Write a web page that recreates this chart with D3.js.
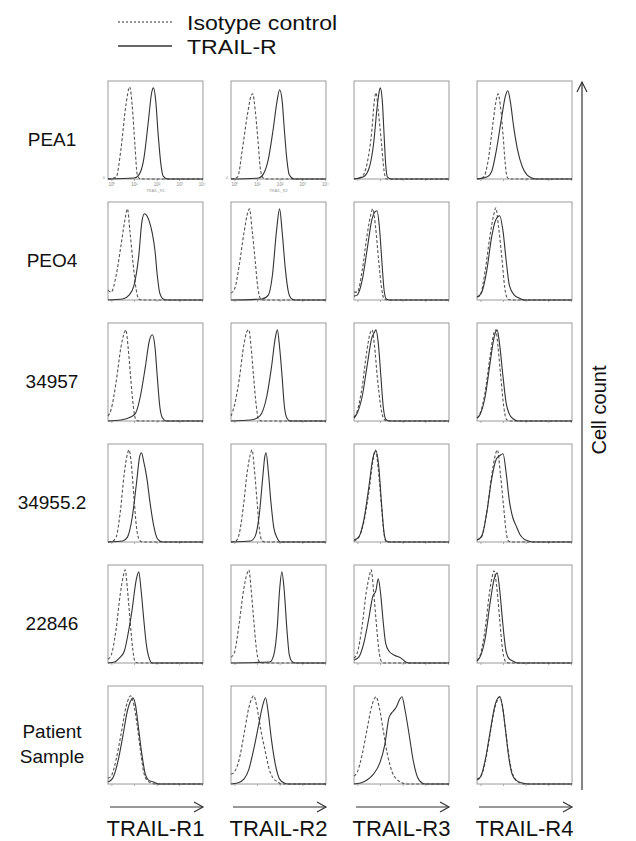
<!DOCTYPE html>
<html>
<head>
<meta charset="utf-8">
<script src="https://cdn.jsdelivr.net/npm/d3@7"></script>
<style>
  body { margin: 0; background: #fff; }
  svg { display: block; font-family: "Liberation Sans", Arial, sans-serif; }
</style>
</head>
<body>
<div id="chart"></div>
<script>
// rows = cell lines, columns = receptors
const samples = ['PEA1', 'PEO4', '34957', '34955.2', '22846', 'Patient Sample'];
const receptors = ['TRAIL-R1', 'TRAIL-R2', 'TRAIL-R3', 'TRAIL-R4'];
const decadeTicks = [0, 1, 2, 3, 4];

// each curve: [log10 fluorescence, relative cell count]
// one entry per receptor (R1..R4)
const pea1Iso = [
  [[0.21,0.02],[0.42,0.3],[0.64,0.75],[0.81,0.94],[0.92,0.75],[1.04,0.35],[1.14,0.05],[1.28,0]],
  [[0.14,0.02],[0.35,0.3],[0.57,0.65],[0.74,0.85],[0.81,0.87],[0.92,0.7],[1.04,0.4],[1.14,0.12],[1.24,0.02]],
  [[0.18,0.02],[0.42,0.15],[0.64,0.5],[0.75,0.8],[0.82,0.88],[0.92,0.7],[1.07,0.35],[1.18,0.08],[1.28,0]],
  [[0.14,0.02],[0.35,0.2],[0.57,0.6],[0.71,0.82],[0.78,0.87],[0.88,0.75],[1.0,0.45],[1.1,0.15],[1.18,0.02],[1.28,0]]
];
const pea1Trail = [
  [[1.0,0.01],[1.21,0.04],[1.43,0.2],[1.64,0.6],[1.78,0.88],[1.86,0.93],[1.96,0.8],[2.07,0.45],[2.19,0.15],[2.29,0.03],[2.5,0]],
  [[1.07,0.01],[1.28,0.05],[1.5,0.2],[1.71,0.5],[1.89,0.8],[2.0,0.91],[2.11,0.8],[2.21,0.5],[2.32,0.2],[2.43,0.04],[2.64,0]],
  [[0.25,0.02],[0.5,0.1],[0.71,0.35],[0.88,0.75],[0.97,0.9],[1.01,0.93],[1.1,0.8],[1.18,0.45],[1.25,0.15],[1.33,0.02],[1.5,0]],
  [[0.28,0.02],[0.5,0.08],[0.71,0.3],[0.92,0.6],[1.11,0.85],[1.21,0.9],[1.33,0.78],[1.46,0.55],[1.64,0.3],[1.86,0.12],[2.07,0.04],[2.29,0.01]]
];

const peo4Iso = [
  [[-0.15,0.1],[-0.01,0.08],[0.21,0.25],[0.42,0.55],[0.6,0.82],[0.71,0.93],[0.82,0.7],[0.97,0.35],[1.1,0.1],[1.21,0.01]],
  [[-0.15,0.07],[0.02,0.12],[0.21,0.35],[0.42,0.68],[0.6,0.9],[0.67,0.93],[0.78,0.72],[0.92,0.4],[1.04,0.12],[1.17,0.01]],
  [[-0.15,0.08],[-0.01,0.08],[0.21,0.3],[0.42,0.65],[0.6,0.88],[0.68,0.93],[0.8,0.75],[0.94,0.4],[1.07,0.12],[1.18,0.01]],
  [[-0.15,0.03],[-0.01,0.05],[0.21,0.3],[0.42,0.65],[0.6,0.88],[0.68,0.94],[0.8,0.75],[0.94,0.45],[1.08,0.12],[1.21,0.01]]
];
const peo4Trail = [
  [[0.5,0.01],[0.78,0.05],[1.0,0.15],[1.21,0.45],[1.35,0.8],[1.46,0.88],[1.57,0.86],[1.68,0.8],[1.81,0.68],[1.93,0.5],[2.03,0.25],[2.14,0.07],[2.29,0.01]],
  [[1.21,0.01],[1.5,0.05],[1.68,0.25],[1.86,0.7],[2.0,0.93],[2.11,0.7],[2.26,0.3],[2.4,0.07],[2.54,0.01]],
  [[-0.15,0.04],[-0.01,0.05],[0.21,0.2],[0.42,0.5],[0.64,0.82],[0.78,0.9],[0.87,0.91],[0.97,0.75],[1.08,0.4],[1.18,0.1],[1.28,0.01]],
  [[-0.15,0.03],[0.06,0.08],[0.28,0.3],[0.5,0.65],[0.68,0.82],[0.85,0.86],[1.0,0.7],[1.14,0.4],[1.28,0.15],[1.5,0.05],[1.71,0.02],[1.93,0]]
];

const s34957Iso = [
  [[-0.15,0.05],[-0.01,0.12],[0.21,0.4],[0.42,0.75],[0.57,0.9],[0.64,0.93],[0.74,0.75],[0.85,0.45],[0.97,0.15],[1.07,0.02],[1.21,0]],
  [[-0.15,0.05],[-0.01,0.15],[0.21,0.42],[0.42,0.78],[0.57,0.92],[0.64,0.93],[0.74,0.75],[0.85,0.45],[0.97,0.15],[1.07,0.02],[1.21,0]],
  [[-0.15,0.04],[-0.01,0.1],[0.21,0.35],[0.42,0.72],[0.57,0.9],[0.65,0.93],[0.75,0.78],[0.88,0.45],[1.03,0.15],[1.17,0.02]],
  [[-0.15,0.03],[-0.01,0.08],[0.21,0.3],[0.42,0.65],[0.6,0.9],[0.68,0.93],[0.78,0.75],[0.9,0.45],[1.03,0.15],[1.14,0.02]]
];
const s34957Trail = [
  [[0.42,0.01],[0.85,0.04],[1.07,0.08],[1.28,0.25],[1.5,0.55],[1.68,0.82],[1.81,0.88],[1.93,0.75],[2.03,0.45],[2.14,0.15],[2.26,0.03],[2.43,0]],
  [[0.71,0.01],[1.0,0.03],[1.21,0.08],[1.43,0.25],[1.64,0.55],[1.81,0.85],[1.9,0.93],[2.0,0.75],[2.11,0.45],[2.21,0.15],[2.32,0.03],[2.46,0]],
  [[-0.15,0.03],[-0.01,0.08],[0.21,0.25],[0.42,0.55],[0.64,0.85],[0.74,0.9],[0.82,0.93],[0.92,0.8],[1.04,0.45],[1.14,0.15],[1.25,0.02]],
  [[-0.15,0.03],[-0.01,0.07],[0.21,0.25],[0.42,0.58],[0.6,0.85],[0.74,0.93],[0.85,0.78],[1.0,0.45],[1.14,0.18],[1.28,0.07],[1.46,0.02],[1.64,0]]
];

const s349552Iso = [
  [[0.06,0.01],[0.21,0.05],[0.39,0.3],[0.57,0.7],[0.71,0.9],[0.78,0.94],[0.88,0.8],[1.0,0.45],[1.11,0.15],[1.24,0.02]],
  [[0.06,0.01],[0.21,0.08],[0.39,0.35],[0.57,0.72],[0.71,0.9],[0.78,0.94],[0.88,0.75],[1.0,0.42],[1.11,0.12],[1.23,0.01]],
  [[-0.15,0.01],[0.06,0.05],[0.28,0.2],[0.5,0.5],[0.68,0.82],[0.8,0.94],[0.92,0.75],[1.07,0.35],[1.18,0.08],[1.28,0]],
  [[-0.15,0.02],[0.06,0.06],[0.28,0.3],[0.5,0.68],[0.65,0.88],[0.75,0.94],[0.88,0.7],[1.03,0.35],[1.14,0.1],[1.24,0.01]]
];
const s349552Trail = [
  [[0.5,0.01],[0.71,0.05],[0.92,0.25],[1.11,0.6],[1.25,0.87],[1.33,0.91],[1.43,0.82],[1.57,0.65],[1.71,0.4],[1.86,0.18],[2.0,0.05],[2.14,0.01]],
  [[0.71,0.01],[0.92,0.06],[1.11,0.3],[1.25,0.65],[1.35,0.88],[1.4,0.91],[1.5,0.72],[1.61,0.42],[1.74,0.15],[1.89,0.04],[2.03,0]],
  [[-0.15,0.02],[0.06,0.05],[0.28,0.22],[0.5,0.55],[0.68,0.85],[0.82,0.93],[0.94,0.78],[1.07,0.38],[1.18,0.09],[1.28,0.01]],
  [[-0.15,0.02],[0.06,0.06],[0.28,0.3],[0.5,0.65],[0.71,0.85],[0.85,0.88],[1.0,0.9],[1.14,0.7],[1.28,0.42],[1.43,0.25],[1.57,0.17],[1.74,0.08],[1.93,0.03],[2.14,0.01]]
];

const s22846Iso = [
  [[-0.15,0.04],[-0.01,0.08],[0.21,0.35],[0.39,0.7],[0.54,0.9],[0.61,0.95],[0.71,0.75],[0.82,0.45],[0.94,0.15],[1.05,0.01]],
  [[-0.15,0.06],[-0.01,0.1],[0.21,0.4],[0.39,0.72],[0.57,0.92],[0.64,0.95],[0.74,0.75],[0.85,0.45],[0.97,0.15],[1.08,0.02]],
  [[-0.15,0.05],[-0.01,0.1],[0.21,0.38],[0.39,0.72],[0.54,0.9],[0.61,0.95],[0.71,0.75],[0.82,0.45],[0.94,0.15],[1.05,0.02]],
  [[-0.15,0.03],[-0.01,0.08],[0.21,0.35],[0.39,0.7],[0.52,0.88],[0.6,0.94],[0.71,0.8],[0.85,0.45],[0.97,0.15],[1.1,0.02]]
];
const s22846Trail = [
  [[0.14,0.01],[0.35,0.05],[0.57,0.12],[0.74,0.3],[0.92,0.55],[1.1,0.85],[1.21,0.93],[1.31,0.75],[1.43,0.45],[1.54,0.2],[1.67,0.05],[1.81,0]],
  [[1.57,0.01],[1.74,0.08],[1.89,0.35],[2.0,0.75],[2.1,0.93],[2.2,0.75],[2.32,0.35],[2.43,0.08],[2.57,0.01]],
  [[-0.15,0.03],[0.06,0.06],[0.28,0.2],[0.5,0.45],[0.68,0.68],[0.82,0.74],[0.92,0.86],[1.03,0.7],[1.14,0.42],[1.25,0.2],[1.4,0.12],[1.64,0.08],[1.93,0.05],[2.14,0.01]],
  [[-0.15,0.02],[0.02,0.08],[0.21,0.25],[0.42,0.6],[0.6,0.85],[0.74,0.92],[0.85,0.75],[0.97,0.45],[1.11,0.15],[1.25,0.05],[1.43,0.02],[1.64,0]]
];

const patientIso = [
  [[-0.15,0.06],[-0.01,0.08],[0.21,0.25],[0.42,0.5],[0.64,0.78],[0.78,0.88],[0.85,0.9],[1.0,0.8],[1.14,0.6],[1.28,0.35],[1.43,0.12],[1.57,0.04],[1.78,0.01]],
  [[-0.15,0.1],[-0.01,0.12],[0.21,0.25],[0.42,0.5],[0.64,0.78],[0.78,0.88],[0.85,0.9],[1.0,0.78],[1.17,0.55],[1.35,0.35],[1.54,0.15],[1.71,0.06],[1.93,0.02],[2.07,0]],
  [[-0.15,0.08],[-0.01,0.12],[0.21,0.3],[0.42,0.55],[0.64,0.8],[0.75,0.87],[0.82,0.89],[0.97,0.78],[1.14,0.55],[1.33,0.3],[1.54,0.12],[1.78,0.04],[2.0,0.01]],
  [[-0.15,0.05],[0.02,0.08],[0.21,0.22],[0.42,0.5],[0.64,0.78],[0.78,0.87],[0.85,0.89],[0.97,0.8],[1.11,0.55],[1.25,0.3],[1.4,0.12],[1.57,0.04],[1.78,0.01]]
];
const patientTrail = [
  [[-0.15,0.02],[0.06,0.06],[0.28,0.22],[0.5,0.48],[0.71,0.75],[0.88,0.86],[0.95,0.88],[1.07,0.8],[1.21,0.55],[1.35,0.3],[1.5,0.1],[1.64,0.04],[1.86,0.02],[2.07,0]],
  [[0.14,0.01],[0.42,0.05],[0.64,0.15],[0.85,0.35],[1.07,0.6],[1.25,0.8],[1.38,0.88],[1.5,0.72],[1.64,0.45],[1.81,0.2],[2.0,0.05],[2.21,0.01]],
  [[0.14,0.01],[0.42,0.04],[0.71,0.1],[1.0,0.22],[1.21,0.4],[1.4,0.68],[1.57,0.74],[1.71,0.78],[1.86,0.86],[1.97,0.89],[2.11,0.75],[2.29,0.5],[2.46,0.25],[2.64,0.08],[2.86,0.01]],
  [[-0.15,0.04],[0.02,0.08],[0.21,0.24],[0.42,0.52],[0.64,0.8],[0.78,0.88],[0.85,0.89],[0.97,0.8],[1.11,0.55],[1.25,0.28],[1.4,0.1],[1.57,0.04],[1.86,0.01],[2.14,0]]
];

const isotype = [pea1Iso, peo4Iso, s34957Iso, s349552Iso, s22846Iso, patientIso];
const trail = [pea1Trail, peo4Trail, s34957Trail, s349552Trail, s22846Trail, patientTrail];

const width = 636, height = 841;
const svg = d3.select('#chart').append('svg')
  .attr('width', width)
  .attr('height', height);

svg.append('rect').attr('width', width).attr('height', height).attr('fill', '#fff');

// panel grid
const col = d3.scaleBand().domain(receptors).range([108, 572]).paddingInner(0.228);
const row = d3.scaleBand().domain(samples).range([81, 784]).paddingInner(0.19);
const pw = col.bandwidth(), ph = row.bandwidth();

const x = d3.scaleLinear().domain([-0.15, 4.05]).range([0, pw]);
const y = d3.scaleLinear().domain([0, 1]).range([ph, 0]);

const line = d3.line()
  .x(d => x(d[0]))
  .y(d => y(d[1]))
  .curve(d3.curveMonotoneX);

// pad each histogram with baseline out to both ends of the axis
function withBaseline(pts) {
  const [x0, x1] = x.domain();
  const out = pts.slice();
  if (out[0][0] > x0) out.unshift([x0, 0]);
  if (out[out.length - 1][1] > 0) out.push([out[out.length - 1][0] + 0.15, 0]);
  out.push([x1, 0]);
  return out;
}

samples.forEach((s, i) => {
  receptors.forEach((r, j) => {
    const g = svg.append('g')
      .attr('transform', `translate(${col(r)},${row(s)})`);

    g.append('rect')
      .attr('width', pw).attr('height', ph)
      .attr('fill', 'none')
      .attr('stroke', '#9a9a9a')
      .attr('stroke-width', 1);

    // small decade ticks on the bottom edge
    const ax = g.append('g')
      .attr('transform', `translate(0,${ph})`)
      .call(d3.axisBottom(x).tickValues(decadeTicks).tickSize(2)
        .tickFormat(i === 0 && j < 2 ? (d => '10' + '⁰¹²³⁴'[d]) : ''));
    ax.select('.domain').remove();
    ax.selectAll('line').attr('stroke', '#aaa');
    ax.selectAll('text').attr('font-size', 4.5).attr('fill', '#888').attr('dy', '0.4em');

    if (i === 0 && j < 2) {
      g.append('text')
        .attr('x', pw / 2).attr('y', ph + 13)
        .attr('text-anchor', 'middle')
        .attr('font-size', 4).attr('fill', '#999')
        .text(r.replace('-', '_'));
      g.append('text')
        .attr('x', -3).attr('y', ph)
        .attr('text-anchor', 'end')
        .attr('font-size', 4).attr('fill', '#999')
        .text('0');
    }

    g.append('path')
      .datum(withBaseline(isotype[i][j]))
      .attr('d', line)
      .attr('fill', 'none')
      .attr('stroke', '#555')
      .attr('stroke-width', 1.1)
      .attr('stroke-dasharray', '3,2');

    g.append('path')
      .datum(withBaseline(trail[i][j]))
      .attr('d', line)
      .attr('fill', 'none')
      .attr('stroke', '#333')
      .attr('stroke-width', 1.1);
  });

  // row label
  const cy = row(s) + ph / 2;
  const words = s === 'Patient Sample' ? ['Patient', 'Sample'] : [s];
  const lbl = svg.append('text')
    .attr('x', 52)
    .attr('text-anchor', 'middle')
    .attr('font-size', 19)
    .attr('fill', '#111');
  words.forEach((w, k) => {
    lbl.append('tspan')
      .attr('x', 52)
      .attr('y', words.length > 1 ? cy + 3 + k * 25 : cy + 16)
      .text(w);
  });
});

// bottom arrows + receptor labels
receptors.forEach(r => {
  const x0 = col(r) + 2, x1 = col(r) + pw;
  const ay = 807;
  svg.append('line').attr('x1', x0).attr('x2', x1).attr('y1', ay).attr('y2', ay)
    .attr('stroke', '#333').attr('stroke-width', 1.2);
  svg.append('path')
    .attr('d', `M${x1 - 9},${ay - 5}L${x1},${ay}L${x1 - 9},${ay + 5}`)
    .attr('fill', 'none').attr('stroke', '#333').attr('stroke-width', 1.2);
  svg.append('text')
    .attr('x', col(r) + pw / 2).attr('y', 836)
    .attr('text-anchor', 'middle')
    .attr('font-size', 22)
    .attr('fill', '#111')
    .text(r);
});

// cell count arrow
const axX = 582;
svg.append('line').attr('x1', axX).attr('x2', axX).attr('y1', 790).attr('y2', 82)
  .attr('stroke', '#333').attr('stroke-width', 1.2);
svg.append('path')
  .attr('d', `M${axX - 5},${92}L${axX},${82}L${axX + 5},${92}`)
  .attr('fill', 'none').attr('stroke', '#333').attr('stroke-width', 1.2);
svg.append('text')
  .attr('transform', `translate(${axX + 24},${410}) rotate(-90)`)
  .attr('text-anchor', 'middle')
  .attr('font-size', 20)
  .attr('fill', '#111')
  .text('Cell count');

// legend
const legend = [
  { label: 'Isotype control', dash: '2,2', color: '#777', y: 22 },
  { label: 'TRAIL-R', dash: null, color: '#333', y: 46 }
];
legend.forEach(d => {
  svg.append('line')
    .attr('x1', 118).attr('x2', 172).attr('y1', d.y).attr('y2', d.y)
    .attr('stroke', d.color).attr('stroke-width', 1.3)
    .attr('stroke-dasharray', d.dash);
  svg.append('text')
    .attr('transform', `translate(187,${d.y + 7.5}) scale(1.1,1)`)
    .attr('font-size', 21)
    .attr('fill', '#111')
    .text(d.label);
});
</script>
</body>
</html>
